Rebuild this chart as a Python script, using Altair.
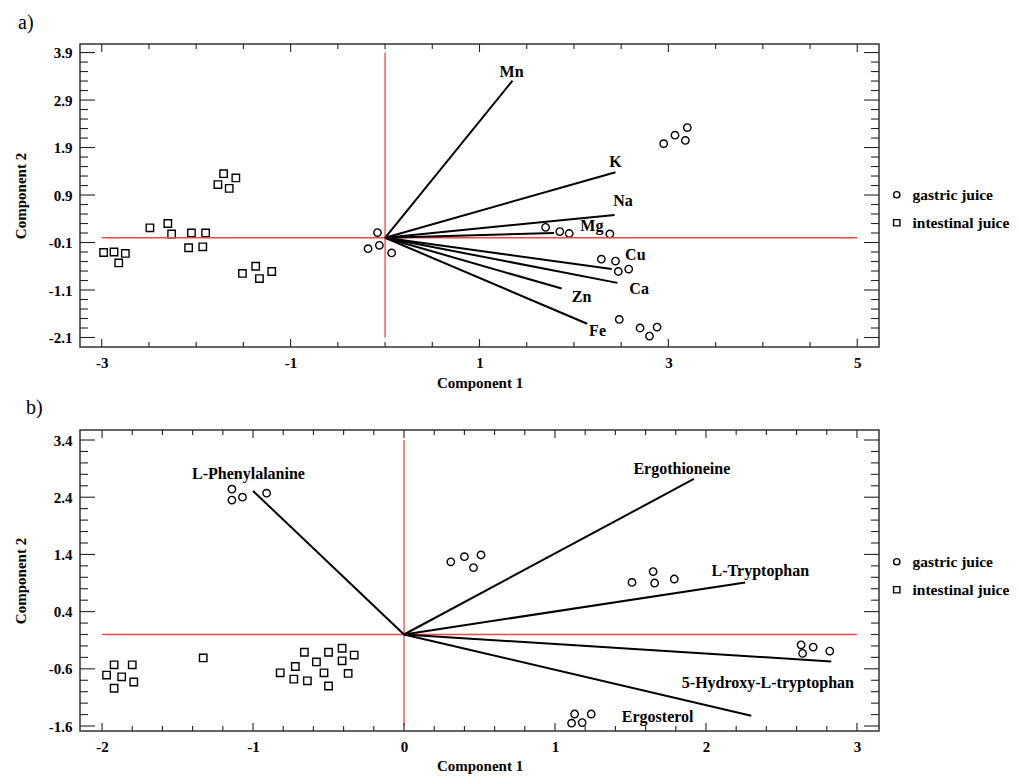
import altair as alt
import pandas as pd

SERIF = "Liberation Serif"
INK = "#222222"
RED = "#f04848"

# ---------------- Panel a data ----------------
a_gas_x = [-0.08, -0.06, -0.18, 0.07, 1.70, 1.85, 1.95, 2.38, 2.29, 2.44, 2.47, 2.58,
           2.48, 2.70, 2.80, 2.88, 2.95, 3.07, 3.20, 3.18]
a_gas_y = [0.11, -0.16, -0.23, -0.32, 0.22, 0.13, 0.09, 0.08, -0.45, -0.49, -0.71, -0.66,
           -1.72, -1.90, -2.07, -1.88, 1.98, 2.16, 2.32, 2.05]
a_int_x = [-1.71, -1.58, -1.77, -1.65, -2.49, -2.30, -2.26, -2.05, -1.90, -2.08, -1.93,
           -2.98, -2.87, -2.75, -2.82, -1.51, -1.37, -1.33, -1.20]
a_int_y = [1.35, 1.26, 1.12, 1.04, 0.21, 0.30, 0.08, 0.10, 0.10, -0.21, -0.19,
           -0.31, -0.30, -0.33, -0.53, -0.75, -0.60, -0.86, -0.71]
a_vec_names = ["Mn", "K", "Na", "Mg", "Cu", "Ca", "Zn", "Fe"]
a_vec_x = [1.35, 2.44, 2.43, 1.79, 2.40, 2.46, 1.87, 2.14]
a_vec_y = [3.31, 1.38, 0.48, 0.10, -0.66, -0.95, -1.07, -1.81]
a_lab_x = [1.34, 2.44, 2.52, 2.19, 2.65, 2.69, 2.08, 2.25]
a_lab_y = [3.48, 1.59, 0.78, 0.25, -0.37, -1.07, -1.24, -1.97]
a_xlabels = [-3, -1, 1, 3, 5]
a_ylabels = [-2.1, -1.1, -0.1, 0.9, 1.9, 2.9, 3.9]

# ---------------- Panel b data ----------------
b_gas_x = [-1.14, -1.07, -1.14, -0.91, 0.31, 0.40, 0.51, 0.46, 1.51, 1.65, 1.66, 1.79,
           2.63, 2.71, 2.64, 2.82, 1.13, 1.24, 1.11, 1.18]
b_gas_y = [2.54, 2.40, 2.35, 2.47, 1.27, 1.36, 1.39, 1.17, 0.91, 1.10, 0.90, 0.97,
           -0.18, -0.22, -0.33, -0.29, -1.39, -1.39, -1.55, -1.54]
b_int_x = [-1.92, -1.80, -1.97, -1.87, -1.79, -1.92, -1.33,
           -0.66, -0.50, -0.41, -0.33, -0.58, -0.41, -0.72, -0.82, -0.53, -0.37,
           -0.73, -0.64, -0.50]
b_int_y = [-0.53, -0.53, -0.71, -0.74, -0.83, -0.94, -0.41,
           -0.31, -0.31, -0.24, -0.36, -0.48, -0.46, -0.56, -0.67, -0.67, -0.68,
           -0.78, -0.81, -0.90]
b_vec_names = ["L-Phenylalanine", "Ergothioneine", "L-Tryptophan",
               "5-Hydroxy-L-tryptophan", "Ergosterol"]
b_vec_x = [-1.00, 1.92, 2.26, 2.83, 2.30]
b_vec_y = [2.51, 2.72, 0.91, -0.47, -1.42]
b_lab_x = [-1.03, 1.84, 2.36, 2.41, 1.68]
b_lab_y = [2.81, 2.89, 1.11, -0.85, -1.44]
b_xlabels = [-2, -1, 0, 1, 2, 3]
b_ylabels = [-1.6, -0.6, 0.4, 1.4, 2.4, 3.4]

GROUPS = ["gastric juice", "intestinal juice"]
HYPHEN = "replace(datum.label, '\u2212', '-')"


def frange(start, step, n):
    return [round(start + step * i, 4) for i in range(n)]


def panel(tag, gx, gy, ix, iy, vnames, vx, vy, lx, ly, xlabels, ylabels,
          xdom, ydom, W, H, xticks, xmajor, yticks, ymajor, xred, yred,
          legX, legY, title_dx, title_offset, xlab_pad, xtitle_pad):
    xs = alt.Scale(domain=xdom, nice=False, zero=False)
    ys = alt.Scale(domain=ydom, nice=False, zero=False)
    # no explicit axis here: the axis is defined once on the points layer
    XN = lambda f: alt.X(f, type="quantitative", scale=xs)
    YN = lambda f: alt.Y(f, type="quantitative", scale=ys)

    pts = pd.DataFrame({
        "x": gx + ix, "y": gy + iy,
        "grp": [GROUPS[0]] * len(gx) + [GROUPS[1]] * len(ix),
    })
    vec = pd.DataFrame({"x0": [0.0] * len(vx), "y0": [0.0] * len(vy), "x1": vx, "y1": vy})
    lab = pd.DataFrame({"x": lx, "y": ly, "t": vnames})
    red = pd.DataFrame({"x": [xred[0], 0.0], "x2": [xred[1], 0.0],
                        "y": [0.0, yred[0]], "y2": [0.0, yred[1]]})

    xaxis = alt.Axis(orient="bottom", values=xlabels, format="d", labelExpr=HYPHEN,
                     domain=False, ticks=False, grid=False,
                     labelPadding=xlab_pad, labelFont=SERIF, labelFontWeight="bold",
                     labelFontSize=15, labelColor="black", labelFlush=False,
                     title="Component 1", titleFont=SERIF, titleFontWeight="bold",
                     titleFontSize=15, titleColor="black", titlePadding=xtitle_pad)
    yaxis = alt.Axis(orient="left", values=ylabels, format=".1f", labelExpr=HYPHEN,
                     domain=False, ticks=False, grid=False,
                     labelPadding=8, labelFont=SERIF, labelFontWeight="bold",
                     labelFontSize=15, labelColor="black", labelFlush=False,
                     title="Component 2", titleFont=SERIF, titleFontWeight="bold",
                     titleFontSize=15, titleColor="black", titlePadding=20)

    pts_l = alt.Chart(pts).mark_point(filled=False, color="black", size=55,
                                      strokeWidth=1.4, opacity=1).encode(
        x=alt.X("x:Q", scale=xs, axis=xaxis),
        y=alt.Y("y:Q", scale=ys, axis=yaxis),
        shape=alt.Shape("grp:N",
                        scale=alt.Scale(domain=GROUPS, range=["circle", "square"]),
                        legend=alt.Legend(title=None, orient="none", legendX=legX,
                                          legendY=legY, labelFont=SERIF,
                                          labelFontWeight="bold", labelFontSize=15.5,
                                          labelColor="black", symbolSize=40,
                                          symbolStrokeWidth=1.4, symbolStrokeColor="black",
                                          rowPadding=11, labelOffset=8, padding=0)))
    red_l = alt.Chart(red).mark_rule(color=RED, strokeWidth=1.3).encode(
        x=XN("x"), x2="x2:Q", y=YN("y"), y2="y2:Q")
    vec_l = alt.Chart(vec).mark_rule(color="black", strokeWidth=2).encode(
        x=XN("x0"), x2="x1:Q", y=YN("y0"), y2="y1:Q")
    lab_l = alt.Chart(lab).mark_text(font=SERIF, fontWeight="bold", fontSize=16,
                                     color="black").encode(
        x=XN("x"), y=YN("y"), text="t:N")

    layers = [pts_l, red_l, vec_l, lab_l]
    # inward ticks on all four sides
    xmin_vals = [v for v in xticks if v not in xmajor]
    ymin_vals = [v for v in yticks if v not in ymajor]
    for vals, L in [(xmajor, 8), (xmin_vals, 5)]:
        d = pd.DataFrame({"v": vals})
        b = alt.Chart(d).mark_rule(color=INK, strokeWidth=1.1)
        layers.append(b.encode(x=XN("v"), y=alt.value(H), y2=alt.value(H - L)))
        layers.append(b.encode(x=XN("v"), y=alt.value(0), y2=alt.value(L)))
    for vals, L in [(ymajor, 15), (ymin_vals, 8)]:
        d = pd.DataFrame({"v": vals})
        b = alt.Chart(d).mark_rule(color=INK, strokeWidth=1.1)
        layers.append(b.encode(y=YN("v"), x=alt.value(0), x2=alt.value(L)))
        layers.append(b.encode(y=YN("v"), x=alt.value(W), x2=alt.value(W - L)))

    return alt.layer(*layers).properties(
        width=W, height=H,
        title=alt.TitleParams(text=tag, anchor="start", frame="group", dx=title_dx,
                              fontSize=20, font=SERIF, fontWeight="normal",
                              color="black", offset=title_offset))


a_xt = frange(-3, 0.5, 17)
a_yt = frange(-2.1, 0.2, 31)
b_xt = frange(-2, 0.2, 26)
b_yt = frange(-1.6, 0.2, 26)

pa = panel("a)", a_gas_x, a_gas_y, a_int_x, a_int_y, a_vec_names, a_vec_x, a_vec_y,
           a_lab_x, a_lab_y, a_xlabels, a_ylabels,
           [-3.23, 5.23], [-2.30, 4.08], 799, 303,
           a_xt, [float(v) for v in a_xlabels], a_yt, a_ylabels,
           [-3, 5], [-2.1, 3.9], 809, 143, -62, 10, 8, 5)
pb = panel("b)", b_gas_x, b_gas_y, b_int_x, b_int_y, b_vec_names, b_vec_x, b_vec_y,
           b_lab_x, b_lab_y, b_xlabels, b_ylabels,
           [-2.146, 3.146], [-1.687, 3.575], 799, 301,
           b_xt, [float(v) for v in b_xlabels], b_yt, b_ylabels,
           [-2, 3], [-1.6, 3.4], 809, 124, -54, 11, 8, 4)

chart = alt.vconcat(pa, pb, spacing=6).resolve_scale(
    shape="independent").resolve_legend(shape="independent").properties(
    padding={"left": 4, "top": 4, "right": 0, "bottom": 0}
).configure_view(stroke="#333333", strokeWidth=1.5)

chart.save("out.html", embed_options={"renderer": "svg", "actions": False})
